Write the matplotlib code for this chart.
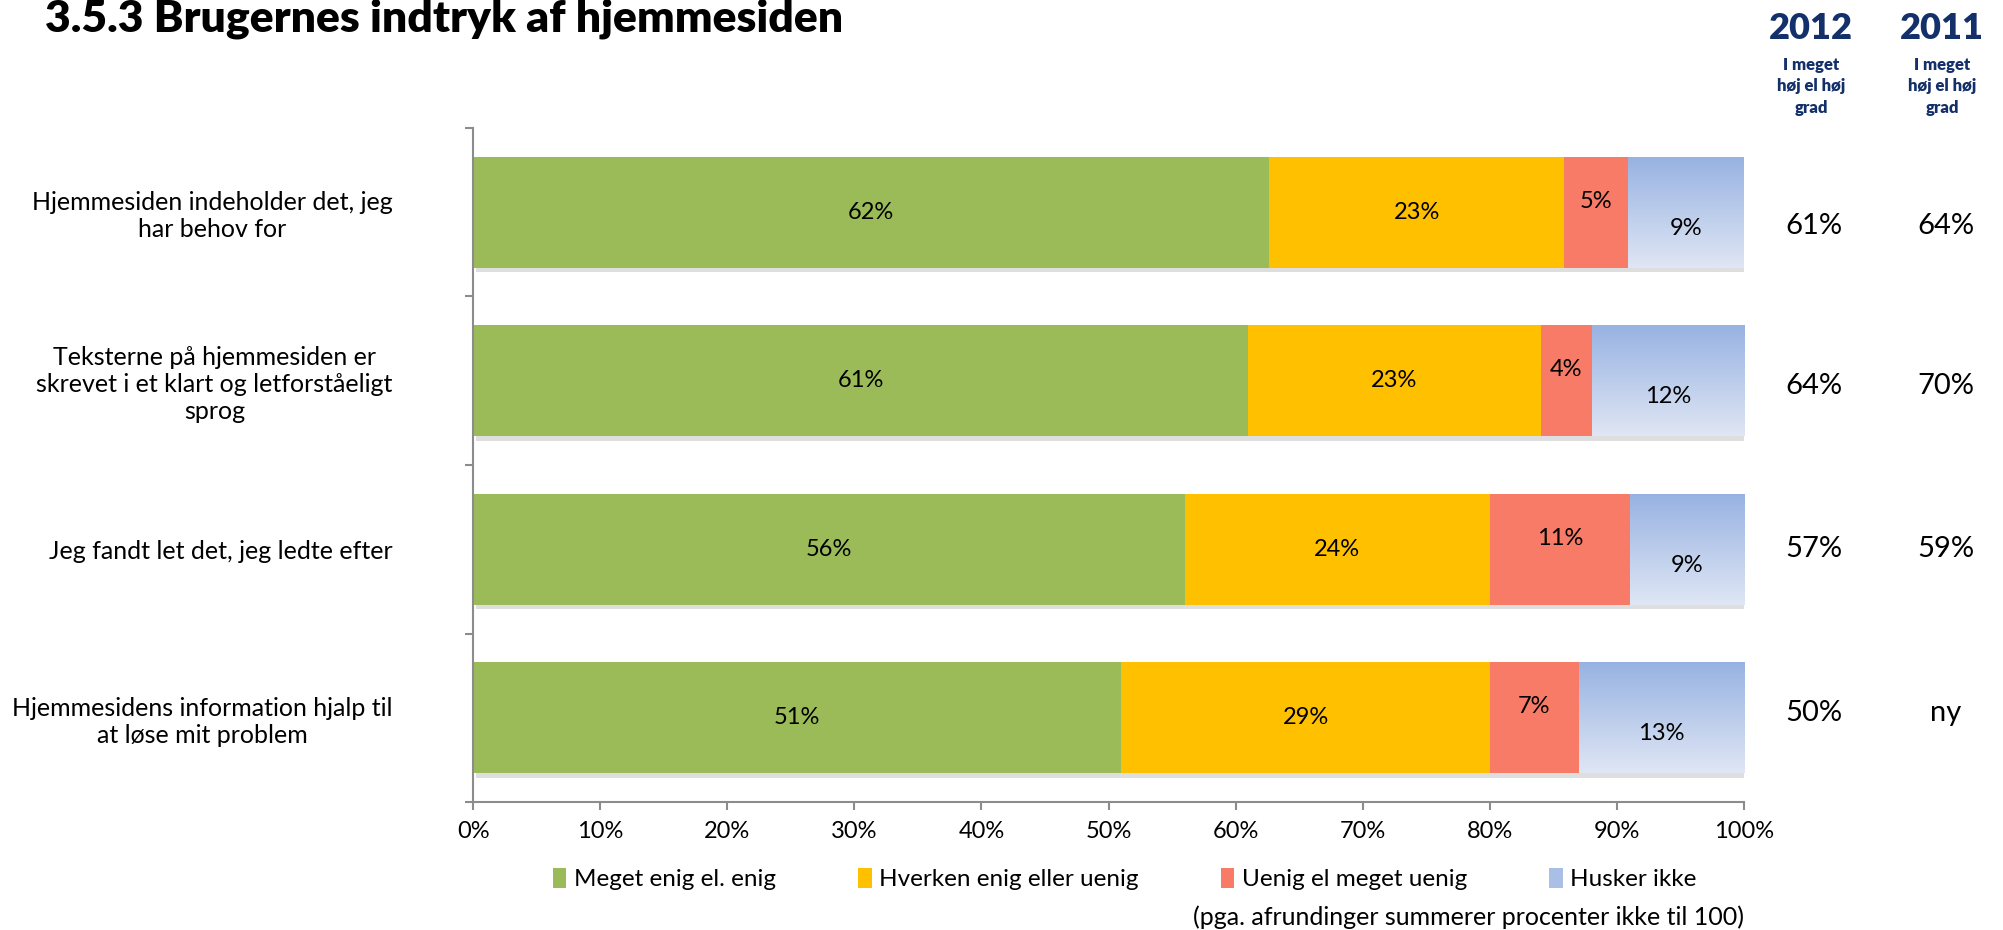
import numpy as np
import matplotlib
matplotlib.use("Agg")
import matplotlib.pyplot as plt
from matplotlib import patheffects, transforms
from matplotlib.colors import LinearSegmentedColormap
from matplotlib.patches import Patch

plt.rcParams['font.family'] = ['Lato', 'DejaVu Sans']

# data
categories = [
    "Hjemmesiden indeholder det, jeg\nhar behov for",
    "Teksterne på hjemmesiden er\nskrevet i et klart og letforståeligt\nsprog",
    "Jeg fandt let det, jeg ledte efter",
    "Hjemmesidens information hjalp til\nat løse mit problem",
]
series = ["Meget enig el. enig", "Hverken enig eller uenig",
          "Uenig el meget uenig", "Husker ikke"]
meget_enig = [62, 61, 56, 51]
hverken = [23, 23, 24, 29]
uenig = [5, 4, 11, 7]
husker_ikke = [9, 12, 9, 13]
hoej_2012 = ["61%", "64%", "57%", "50%"]
hoej_2011 = ["64%", "70%", "59%", "ny"]
xticks = [0, 10, 20, 30, 40, 50, 60, 70, 80, 90, 100]

colors = ["#9BBB59", "#FFC000", "#F77B67", "#A9BFE6"]
navy = "#14306A"
label_dy = [0, 0, -0.065, 0.095]
col_dy = [0.08, 0.03, 0.0, -0.03]

fig = plt.figure(figsize=(20.03, 9.30), dpi=100)
ax = fig.add_axes([0.2362, 0.1376, 0.6345, 0.7248])

vals = np.array([meget_enig, hverken, uenig, husker_ikke], dtype=float)
# 100% stacked, like the original spreadsheet chart
vals = vals / vals.sum(axis=0) * 100
raw = [meget_enig, hverken, uenig, husker_ikke]
y = np.arange(len(categories))
h = 0.66
shadow = [patheffects.SimplePatchShadow(offset=(2, -3), shadow_rgbFace='k', alpha=0.13),
          patheffects.Normal()]

left = np.zeros(len(categories))
grad_cmap = LinearSegmentedColormap.from_list("blue", ["#97B2E2", "#DFE6F4"])
for i, name in enumerate(series):
    bars = ax.barh(y, vals[i], left=left, height=h, color=colors[i], zorder=2)
    for j, b in enumerate(bars):
        b.set_path_effects(shadow)
        if i == 3:
            g = np.linspace(0, 1, 100).reshape(-1, 1)
            im = ax.imshow(g, cmap=grad_cmap, aspect='auto', origin='upper',
                           extent=(left[j], left[j] + vals[i][j], y[j] + h / 2, y[j] - h / 2),
                           zorder=3)
            im.set_clip_path(b)
        ax.text(left[j] + vals[i][j] / 2, y[j] + label_dy[i], f"{raw[i][j]}%",
                ha='center', va='center', fontsize=17, zorder=4)
    left += vals[i]

ax.set_xlim(0, 100)
ax.set_ylim(3.5, -0.5)

ax.set_xticks(xticks)
ax.set_xticklabels([f"{t}%" for t in xticks], fontsize=17)
ax.tick_params(axis='x', length=6, width=1.5, color='#8C8C8C', pad=8)
ax.set_yticks(y)
ax.set_yticklabels(categories, fontsize=18, multialignment='center', linespacing=1.2)
ax.tick_params(axis='y', which='major', length=0, pad=58)
ax.set_yticks(np.arange(-0.5, 4, 1), minor=True)
ax.tick_params(axis='y', which='minor', length=6, width=1.5, color='#8C8C8C')
for s in ['top', 'right']:
    ax.spines[s].set_visible(False)
for s in ['left', 'bottom']:
    ax.spines[s].set_color('#8C8C8C')
    ax.spines[s].set_linewidth(1.5)

# right-hand columns
tr = transforms.blended_transform_factory(fig.transFigure, ax.transData)
for j in range(len(categories)):
    ax.text(0.9056, y[j] + col_dy[j], hoej_2012[j], transform=tr, ha='center', va='center', fontsize=21)
    ax.text(0.9716, y[j] + col_dy[j], hoej_2011[j], transform=tr, ha='center', va='center', fontsize=21)

for x, yr in [(0.9041, "2012"), (0.9696, "2011")]:
    fig.text(x, 0.969, yr, ha='center', va='center', fontsize=26, fontweight='heavy', color=navy)
    fig.text(x, 0.907, "I meget\nhøj el høj\ngrad", ha='center', va='center', fontsize=12,
             fontweight='heavy', color=navy, linespacing=1.45)

fig.text(0.0225, 0.966, "3.5.3 Brugernes indtryk af hjemmesiden", ha='left', va='baseline',
         fontsize=32, fontweight='heavy')

handles = [Patch(facecolor=c, edgecolor='none') for c in colors]
fig.legend(handles, series, loc='center', bbox_to_anchor=(0.5615, 0.055), ncol=4, frameon=False,
           fontsize=17.5, handlelength=0.55, handleheight=0.9, handletextpad=0.3, columnspacing=3.4)

fig.text(0.8707, 0.014, "(pga. afrundinger summerer procenter ikke til 100)", ha='right',
         va='center', fontsize=18)

fig.savefig("out.png", dpi=100)
